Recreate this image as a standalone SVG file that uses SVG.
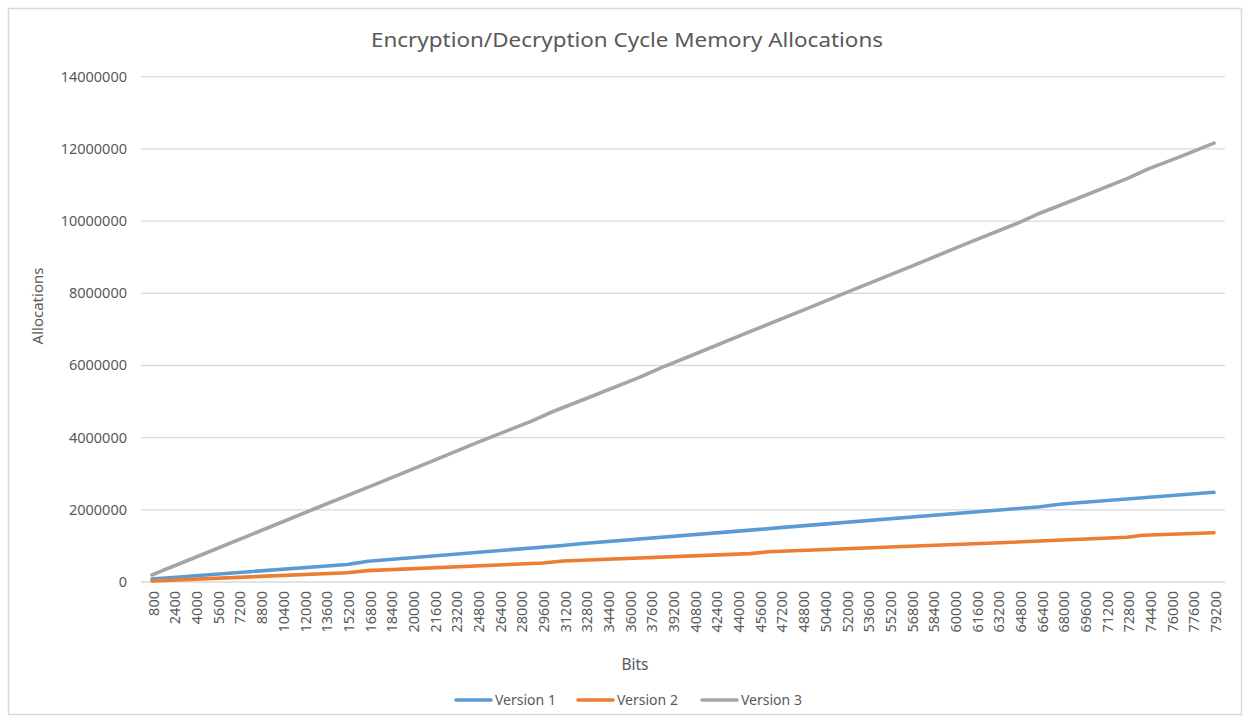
<svg xmlns="http://www.w3.org/2000/svg" width="1250" height="723" viewBox="0 0 1250 723">
<style>
text{font-family:"Noto Sans","Open Sans","Liberation Sans",sans-serif;fill:#595959}
.ax{font-size:14.5px}
.yl{text-anchor:end}
.xl{text-anchor:end}
.grid{stroke:#d9d9d9;stroke-width:1.3}
.s{fill:none;stroke-width:3.6;stroke-linecap:round;stroke-linejoin:round}
.v1{stroke:#5b9bd5}.v2{stroke:#ed7d31}.v3{stroke:#a5a5a5}
</style>
<rect width="1250" height="723" fill="#ffffff"/>
<rect x="8.5" y="8.5" width="1233" height="706" fill="#ffffff" stroke="#d9d9d9" stroke-width="1.5"/>
<text x="627" y="47" font-size="20" text-anchor="middle" textLength="512" lengthAdjust="spacingAndGlyphs">Encryption/Decryption Cycle Memory Allocations</text>
<g id="gridlines">
<line class="grid" x1="141" y1="76.7" x2="1225" y2="76.7"/>
<line class="grid" x1="141" y1="148.9" x2="1225" y2="148.9"/>
<line class="grid" x1="141" y1="221.1" x2="1225" y2="221.1"/>
<line class="grid" x1="141" y1="293.3" x2="1225" y2="293.3"/>
<line class="grid" x1="141" y1="365.5" x2="1225" y2="365.5"/>
<line class="grid" x1="141" y1="437.6" x2="1225" y2="437.6"/>
<line class="grid" x1="141" y1="509.8" x2="1225" y2="509.8"/>
<line class="grid" x1="141" y1="582" x2="1225" y2="582"/>
</g>
<g id="y-axis" class="ax yl">
<text x="127" y="82">14000000</text>
<text x="127" y="154">12000000</text>
<text x="127" y="226">10000000</text>
<text x="127" y="298">8000000</text>
<text x="127" y="370">6000000</text>
<text x="127" y="443">4000000</text>
<text x="127" y="515">2000000</text>
<text x="127" y="587">0</text>
</g>
<text id="y-title" transform="translate(43,306) rotate(-90)" font-size="15" text-anchor="middle">Allocations</text>
<g id="x-axis" class="ax xl">
<text transform="translate(158.7,591) rotate(-90)">800</text>
<text transform="translate(180.4,591) rotate(-90)">2400</text>
<text transform="translate(202.1,591) rotate(-90)">4000</text>
<text transform="translate(223.7,591) rotate(-90)">5600</text>
<text transform="translate(245.4,591) rotate(-90)">7200</text>
<text transform="translate(267.1,591) rotate(-90)">8800</text>
<text transform="translate(288.8,591) rotate(-90)">10400</text>
<text transform="translate(310.5,591) rotate(-90)">12000</text>
<text transform="translate(332.1,591) rotate(-90)">13600</text>
<text transform="translate(353.8,591) rotate(-90)">15200</text>
<text transform="translate(375.5,591) rotate(-90)">16800</text>
<text transform="translate(397.2,591) rotate(-90)">18400</text>
<text transform="translate(418.9,591) rotate(-90)">20000</text>
<text transform="translate(440.5,591) rotate(-90)">21600</text>
<text transform="translate(462.2,591) rotate(-90)">23200</text>
<text transform="translate(483.9,591) rotate(-90)">24800</text>
<text transform="translate(505.6,591) rotate(-90)">26400</text>
<text transform="translate(527.3,591) rotate(-90)">28000</text>
<text transform="translate(548.9,591) rotate(-90)">29600</text>
<text transform="translate(570.6,591) rotate(-90)">31200</text>
<text transform="translate(592.3,591) rotate(-90)">32800</text>
<text transform="translate(614.0,591) rotate(-90)">34400</text>
<text transform="translate(635.7,591) rotate(-90)">36000</text>
<text transform="translate(657.3,591) rotate(-90)">37600</text>
<text transform="translate(679.0,591) rotate(-90)">39200</text>
<text transform="translate(700.7,591) rotate(-90)">40800</text>
<text transform="translate(722.4,591) rotate(-90)">42400</text>
<text transform="translate(744.1,591) rotate(-90)">44000</text>
<text transform="translate(765.7,591) rotate(-90)">45600</text>
<text transform="translate(787.4,591) rotate(-90)">47200</text>
<text transform="translate(809.1,591) rotate(-90)">48800</text>
<text transform="translate(830.8,591) rotate(-90)">50400</text>
<text transform="translate(852.5,591) rotate(-90)">52000</text>
<text transform="translate(874.1,591) rotate(-90)">53600</text>
<text transform="translate(895.8,591) rotate(-90)">55200</text>
<text transform="translate(917.5,591) rotate(-90)">56800</text>
<text transform="translate(939.2,591) rotate(-90)">58400</text>
<text transform="translate(960.9,591) rotate(-90)">60000</text>
<text transform="translate(982.5,591) rotate(-90)">61600</text>
<text transform="translate(1004.2,591) rotate(-90)">63200</text>
<text transform="translate(1025.9,591) rotate(-90)">64800</text>
<text transform="translate(1047.6,591) rotate(-90)">66400</text>
<text transform="translate(1069.3,591) rotate(-90)">68000</text>
<text transform="translate(1090.9,591) rotate(-90)">69600</text>
<text transform="translate(1112.6,591) rotate(-90)">71200</text>
<text transform="translate(1134.3,591) rotate(-90)">72800</text>
<text transform="translate(1156.0,591) rotate(-90)">74400</text>
<text transform="translate(1177.7,591) rotate(-90)">76000</text>
<text transform="translate(1199.3,591) rotate(-90)">77600</text>
<text transform="translate(1221.0,591) rotate(-90)">79200</text>
</g>
<text id="x-title" x="635" y="670" font-size="15.5" text-anchor="middle">Bits</text>
<g id="series">
<polyline id="version3" class="s v3" points="152,575 163,570.3 174,566 206,553 260,531 314,509 369,486.9 423,464.8 477,442.6 531,421.3 553,411.5 585,399 640,377.2 662,367.3 694,354.5 748,332.4 802,310.6 856,288.6 910,266.8 964,244.7 1019,222.6 1041,212.7 1073,200.3 1127,178.6 1149,168.6 1181,156.4 1214,143.2"/>
<polyline id="version1" class="s v1" points="152,579 347,564.5 368,561.2 560,545.7 580,543.8 760,529.4 780,527.6 1040,506.8 1062,504 1214,492.3"/>
<polyline id="version2" class="s v2" points="152,581 347,572.7 368,570.6 543,563 563,561 750,553.6 768,551.8 1000,542.7 1127,537.3 1143,535.3 1214,532.7"/>
</g>
<g id="legend" font-size="14">
<line class="s v1" x1="456" y1="700" x2="491" y2="700"/>
<text x="495" y="705">Version 1</text>
<line class="s v2" x1="578" y1="700" x2="613" y2="700"/>
<text x="617" y="705">Version 2</text>
<line class="s v3" x1="702" y1="700" x2="737" y2="700"/>
<text x="741" y="705">Version 3</text>
</g>
</svg>
